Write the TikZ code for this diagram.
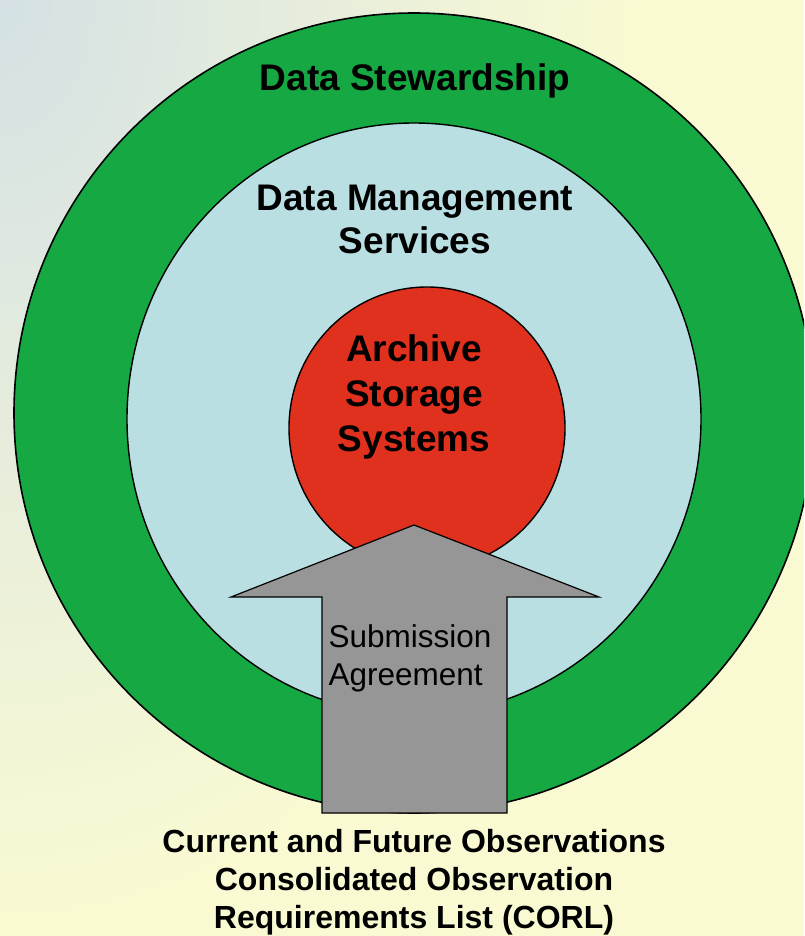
\documentclass[tikz,border=0pt]{standalone}
\usepackage{fontspec}
\setmainfont{Liberation Sans}
\definecolor{bgblue}{RGB}{212,225,229}
\definecolor{bgyellow}{RGB}{250,250,210}
\definecolor{stewgreen}{RGB}{22,168,67}
\definecolor{dmsblue}{RGB}{186,223,227}
\definecolor{archred}{RGB}{224,48,30}
\definecolor{arrowgray}{RGB}{150,150,150}
\begin{document}
\begin{tikzpicture}[ x=1pt, y=-1pt,
	  title/.style={ font=\bfseries\fontsize{37}{43}\selectfont, align=center },
	  plain/.style={ font=\fontsize{31.5}{38}\selectfont, align=left },
	  foot/.style={ font=\bfseries\fontsize{32}{38}\selectfont, align=center, inner sep=0pt } ]
	  \useasboundingbox (0,0) rectangle (804,936);
	  \clip (0,0) rectangle (804,936);
	  \fill [ bgyellow ] (0,0) rectangle (804,936);
	  \foreach \i in {100,98,...,2}
	    \fill [ bgyellow!\i!bgblue ] (0,0) ellipse [ x radius=6.5*\i, y radius=9.5*\i ];

	  \draw [ line width=1.6pt, fill=stewgreen ] (414,413) circle [ radius=400 ];
	  \draw [ line width=1.4pt, fill=dmsblue ] (414,419) ellipse [ x radius=287, y radius=296 ];
	  \draw [ line width=1.4pt, fill=archred ] (427,428) ellipse [ x radius=138, y radius=141 ];

	  \draw [ line width=1.2pt, fill=arrowgray ] (414,525)--(599,597)--(507,597)--(507,813)--(322,813)--(322,597)--(231,597)--cycle;

	  \node [ title ] (stew) at (415,81) {Data Stewardship};
	  \node [ title ] (dms) at (415,219) {Data Management\\Services};
	  \node [ title, font=\bfseries\fontsize{37}{45}\selectfont ] (arch) at (414,397) {Archive\\Storage\\Systems};
	  \node [ plain, anchor=west ] (sub) at (325,658) {Submission\\Agreement};
	  \node [ foot ] (corl) at (414,882) {Current and Future Observations\\Consolidated Observation\\Requirements List (CORL)};
	\end{tikzpicture}
\end{document}
